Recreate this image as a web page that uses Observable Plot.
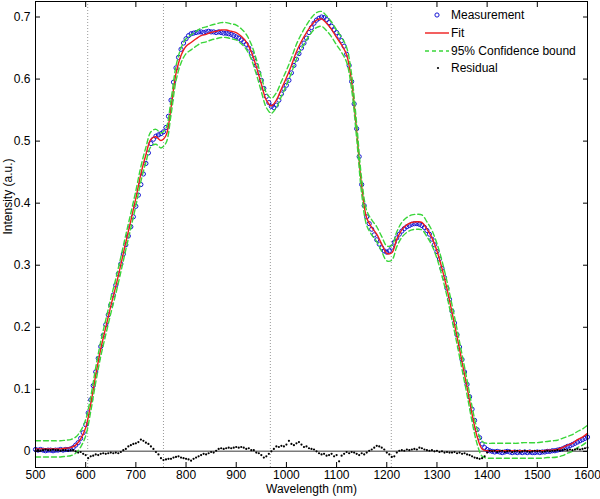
<!DOCTYPE html>
<html><head><meta charset="utf-8">
<script src="https://cdn.jsdelivr.net/npm/d3@7"></script>
<script src="https://cdn.jsdelivr.net/npm/@observablehq/plot@0.6"></script>
<style>body{margin:0;background:#fff}</style>
</head><body><div id="chart"></div>
<script>
// Measurement (5 nm steps, 500..1600)
const measurement = [
0.003,0.002,0.003,0.002,0.001,0.002,0.002,0.001,0.002,0.002,
0.003,0.002,0.003,0.003,0.004,0.006,0.010,0.014,0.021,0.030,
0.043,0.062,0.083,0.106,0.128,0.150,0.169,0.187,0.204,0.220,
0.236,0.252,0.268,0.286,0.302,0.318,0.333,0.347,0.362,0.378,
0.395,0.413,0.430,0.447,0.464,0.481,0.496,0.503,0.508,0.510,
0.512,0.515,0.522,0.540,0.566,0.595,0.618,0.635,0.648,0.658,
0.665,0.670,0.673,0.674,0.675,0.676,0.676,0.675,0.676,0.677,
0.676,0.676,0.675,0.676,0.675,0.674,0.674,0.673,0.672,0.670,
0.668,0.666,0.663,0.660,0.656,0.650,0.642,0.633,0.622,0.610,
0.598,0.585,0.572,0.562,0.556,0.554,0.558,0.566,0.576,0.584,
0.590,0.598,0.610,0.622,0.632,0.641,0.650,0.658,0.666,0.675,
0.683,0.690,0.695,0.698,0.700,0.699,0.696,0.691,0.685,0.679,
0.675,0.669,0.662,0.653,0.640,0.622,0.596,0.560,0.520,0.475,
0.430,0.396,0.378,0.367,0.358,0.349,0.341,0.334,0.328,0.323,
0.321,0.323,0.329,0.337,0.344,0.350,0.355,0.359,0.362,0.364,
0.366,0.367,0.367,0.366,0.364,0.361,0.356,0.350,0.342,0.333,
0.322,0.310,0.295,0.280,0.263,0.245,0.226,0.207,0.188,0.168,
0.148,0.128,0.108,0.088,0.068,0.050,0.035,0.022,0.012,0.006,
0.003,0.001,0.000,-0.001,0.000,-0.001,-0.002,-0.001,0.000,-0.001,
-0.002,-0.001,-0.002,-0.001,-0.002,-0.001,-0.002,-0.001,-0.002,-0.002,
-0.001,-0.002,-0.001,-0.001,0.000,0.000,0.001,0.001,0.002,0.003,
0.004,0.006,0.008,0.009,0.011,0.013,0.015,0.017,0.019,0.021,
0.023];
// Residual (5 nm steps)
const residual = [
0.001,0.002,0.001,0.002,0.003,0.002,0.002,0.003,0.002,0.002,
0.001,0.002,0.002,0.001,0.002,0.002,0.000,-0.002,-0.001,-0.004,
-0.006,-0.011,-0.008,-0.007,-0.005,-0.006,-0.004,-0.003,-0.004,-0.003,
-0.002,-0.003,-0.002,-0.003,-0.001,0.002,0.004,0.008,0.010,0.012,
0.013,0.015,0.019,0.017,0.014,0.012,0.008,0.004,-0.001,-0.005,
-0.011,-0.014,-0.013,-0.012,-0.012,-0.010,-0.009,-0.008,-0.010,-0.011,
-0.012,-0.013,-0.015,-0.012,-0.010,-0.008,-0.006,-0.004,-0.005,-0.003,
-0.001,-0.002,0.001,0.004,0.005,0.004,0.005,0.006,0.005,0.006,
0.007,0.006,0.007,0.006,0.004,0.005,0.002,0.002,-0.002,-0.003,
-0.006,-0.010,-0.008,-0.004,0.000,0.004,0.008,0.007,0.009,0.008,
0.011,0.017,0.012,0.010,0.013,0.015,0.011,0.007,0.008,0.005,
0.004,0.003,0.000,-0.003,-0.005,-0.004,-0.007,-0.006,-0.004,-0.008,
-0.006,-0.016,-0.007,-0.004,-0.001,-0.003,-0.001,-0.002,-0.004,-0.006,
-0.003,-0.005,-0.002,0.001,0.003,0.006,0.009,0.008,0.006,0.003,
-0.002,-0.005,-0.009,-0.008,-0.002,0.001,0.002,0.001,0.003,0.002,
0.003,0.004,0.003,0.006,0.005,0.003,0.002,0.001,0.002,0.000,
0.001,-0.001,0.000,-0.002,-0.001,-0.002,-0.002,-0.001,-0.003,-0.002,
-0.004,-0.003,-0.005,-0.006,-0.008,-0.010,-0.011,-0.012,-0.011,-0.008,
-0.002,0.001,0.000,0.001,-0.001,0.000,0.001,-0.001,0.000,0.001,
-0.001,0.000,0.001,-0.001,0.000,0.001,0.000,-0.001,0.000,0.001,
0.000,0.001,-0.001,0.000,0.001,0.000,0.001,0.001,0.002,0.001,
0.002,0.003,0.002,0.003,0.002,0.003,0.004,0.003,0.004,0.005,
0.006];
// Fit and 95% bounds (10 nm steps)
const fit = [
0.004,0.004,0.004,0.004,0.004,0.004,0.005,0.006,0.010,0.020,
0.038,0.076,0.123,0.165,0.200,0.234,0.266,0.301,0.337,0.372,
0.408,0.447,0.478,0.503,0.507,0.501,0.509,0.554,0.609,0.638,
0.653,0.659,0.665,0.670,0.672,0.675,0.677,0.679,0.679,0.677,
0.675,0.669,0.660,0.644,0.620,0.592,0.566,0.557,0.566,0.584,
0.602,0.622,0.644,0.661,0.675,0.687,0.695,0.697,0.690,0.680,
0.667,0.655,0.639,0.595,0.516,0.427,0.376,0.361,0.350,0.334,
0.319,0.320,0.342,0.357,0.365,0.369,0.370,0.369,0.358,0.344,
0.323,0.295,0.262,0.224,0.185,0.144,0.103,0.060,0.024,0.004,
0.001,0.001,0.001,0.001,0.001,0.001,0.001,0.001,0.001,0.001,
0.001,0.001,0.002,0.002,0.003,0.006,0.010,0.013,0.019,0.023,
0.029];
const upper = [
0.017,0.017,0.017,0.017,0.017,0.017,0.018,0.019,0.023,0.033,
0.051,0.088,0.135,0.177,0.212,0.246,0.278,0.313,0.349,0.384,
0.420,0.459,0.490,0.515,0.519,0.513,0.521,0.566,0.621,0.650,
0.665,0.671,0.677,0.682,0.684,0.687,0.689,0.691,0.691,0.689,
0.687,0.681,0.672,0.656,0.632,0.604,0.578,0.569,0.578,0.596,
0.614,0.634,0.656,0.673,0.687,0.699,0.707,0.709,0.702,0.692,
0.679,0.667,0.651,0.607,0.528,0.439,0.388,0.373,0.362,0.346,
0.331,0.332,0.354,0.369,0.377,0.381,0.382,0.381,0.370,0.356,
0.335,0.307,0.274,0.236,0.197,0.156,0.115,0.072,0.036,0.016,
0.013,0.013,0.013,0.013,0.013,0.013,0.013,0.014,0.014,0.014,
0.014,0.015,0.016,0.017,0.018,0.021,0.024,0.027,0.032,0.036,
0.042];
const lower = [
-0.009,-0.009,-0.009,-0.009,-0.009,-0.009,-0.008,-0.007,-0.003,0.007,
0.025,0.064,0.111,0.153,0.188,0.222,0.254,0.289,0.325,0.360,
0.396,0.435,0.466,0.491,0.495,0.489,0.497,0.542,0.597,0.626,
0.641,0.647,0.653,0.658,0.660,0.663,0.665,0.667,0.667,0.665,
0.663,0.657,0.648,0.632,0.608,0.580,0.554,0.545,0.554,0.572,
0.590,0.610,0.632,0.649,0.663,0.675,0.683,0.685,0.678,0.668,
0.655,0.643,0.627,0.583,0.504,0.415,0.364,0.349,0.338,0.322,
0.307,0.308,0.330,0.345,0.353,0.357,0.358,0.357,0.346,0.332,
0.311,0.283,0.250,0.212,0.173,0.132,0.091,0.048,0.012,-0.008,
-0.011,-0.011,-0.011,-0.011,-0.011,-0.011,-0.011,-0.011,-0.011,-0.011,
-0.011,-0.011,-0.010,-0.010,-0.009,-0.007,-0.003,0.000,0.006,0.010,
0.016];
const markerLines = [604, 755, 968, 1209];
const xTicks = [500,600,700,800,900,1000,1100,1200,1300,1400,1500,1600];
const yTicks = [0,0.1,0.2,0.3,0.4,0.5,0.6,0.7];
const legendLabels = ["Measurement","Fit","95% Confidence bound","Residual"];

const wl5 = d3.range(500, 1601, 5);
const wl10 = d3.range(500, 1601, 10);
const measData = wl5.map((x, i) => ({x, y: measurement[i]}));
const residData = wl5.map((x, i) => ({x, y: residual[i]}));
const fitData = wl10.map((x, i) => ({x, y: fit[i]}));
const upperData = wl10.map((x, i) => ({x, y: upper[i]}));
const lowerData = wl10.map((x, i) => ({x, y: lower[i]}));

const FONT = "'Liberation Sans', Arial, Helvetica, sans-serif";
const BLUE = "#1414d4", RED = "#ee1c1c", GREEN = "#3ad63a";

const chart = Plot.plot({
  width: 600, height: 499,
  marginLeft: 35, marginRight: 13, marginTop: 1, marginBottom: 32,
  style: {fontFamily: FONT, fontSize: "12px", background: "#fff", color: "#000"},
  x: {domain: [500, 1600], label: null},
  y: {domain: [-0.026, 0.725], label: null},
  marks: [
    Plot.ruleX(markerLines, {stroke: "#999", strokeDasharray: "1,2", strokeWidth: 1}),
    Plot.ruleY([0], {stroke: "#7a7a7a", strokeWidth: 1.5}),
    Plot.dot(measData, {x: "x", y: "y", r: 2.1, stroke: BLUE, strokeWidth: 1, fill: "none"}),
    Plot.line(fitData, {x: "x", y: "y", stroke: RED, strokeWidth: 1.4, curve: "catmull-rom"}),
    Plot.line(upperData, {x: "x", y: "y", stroke: GREEN, strokeWidth: 1.4, strokeDasharray: "5,3", curve: "catmull-rom"}),
    Plot.line(lowerData, {x: "x", y: "y", stroke: GREEN, strokeWidth: 1.4, strokeDasharray: "5,3", curve: "catmull-rom"}),
    Plot.dot(residData, {x: "x", y: "y", r: 1.1, fill: "#000"}),
    Plot.frame({stroke: "#000", strokeWidth: 1}),
    Plot.axisX({ticks: xTicks, tickSize: -5, tickPadding: 8, tickFormat: d => String(d)}),
    Plot.axisX({anchor: "top", ticks: xTicks, tickSize: -5, tickFormat: () => ""}),
    Plot.axisY({ticks: yTicks, tickSize: -5, tickPadding: 10, tickFormat: d => d === 0 ? "0" : d.toFixed(1)}),
    Plot.axisY({anchor: "right", ticks: yTicks, tickSize: -5, tickFormat: () => ""}),
    Plot.text(["Wavelength (nm)"], {text: d => d, frameAnchor: "bottom", dy: 25, fontSize: 12}),
    Plot.text(["Intensity (a.u.)"], {text: d => d, frameAnchor: "left", dx: -27, rotate: -90, fontSize: 12})
  ]
});

// legend inside the plot, top-right
const svg = d3.select(chart);
const lg = svg.append("g").attr("font-family", FONT).attr("font-size", 12).attr("fill", "#000").attr("text-anchor", "start");
const ys = [15, 33, 51, 68];
legendLabels.forEach((lab, i) => {
  const y = ys[i];
  if (i === 0) lg.append("circle").attr("cx", 437).attr("cy", y).attr("r", 2.1).attr("fill", "none").attr("stroke", BLUE);
  if (i === 1) lg.append("line").attr("x1", 425).attr("x2", 449).attr("y1", y).attr("y2", y).attr("stroke", RED).attr("stroke-width", 1.4);
  if (i === 2) lg.append("line").attr("x1", 425).attr("x2", 449).attr("y1", y).attr("y2", y).attr("stroke", GREEN).attr("stroke-width", 1.4).attr("stroke-dasharray", "4,3");
  if (i === 3) lg.append("circle").attr("cx", 438).attr("cy", y).attr("r", 1.1).attr("fill", "#000");
  lg.append("text").attr("x", 451).attr("y", y).attr("dy", "0.35em").attr("text-anchor", "start").text(lab);
});

document.getElementById("chart").appendChild(chart);
</script>
</body></html>
